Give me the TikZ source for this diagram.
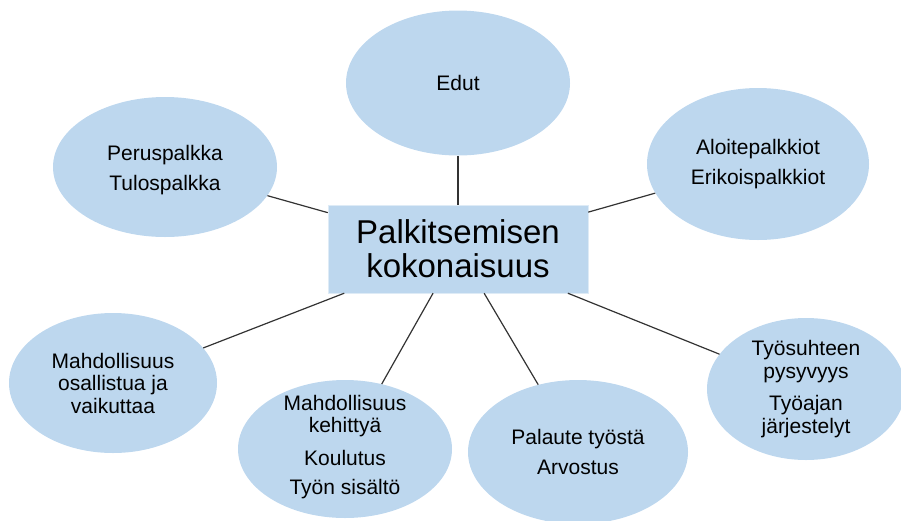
\documentclass[tikz,border=0pt]{standalone}
\usepackage{fontspec}
\setmainfont{Liberation Sans}
\usetikzlibrary{shapes.geometric}
\definecolor{pallo}{RGB}{189,215,238}

\begin{document}
\begin{tikzpicture}[x=1pt, y=-1pt,
	pallo/.style={ellipse, fill=pallo, inner sep=0pt},
	teksti/.style={align=center, inner sep=0pt, font=\fontsize{21}{22.5}\selectfont},
	yhteys/.style={black!80, line width=1.2pt}]

\useasboundingbox (0,0) rectangle (901,520);

\node[fill=pallo, draw=pallo!50!white, minimum width=260pt, minimum height=88pt,
	align=center, font=\fontsize{33}{34}\selectfont] (keskus) at (458,249) {Palkitsemisen\\kokonaisuus};

% ellipsit
\node[pallo, minimum width=224pt, minimum height=145pt] (edut) at (458,83) {};
\node[pallo, minimum width=224pt, minimum height=140pt] (perus) at (165,167) {};
\node[pallo, minimum width=222pt, minimum height=152pt] (aloite) at (758,164) {};
\node[pallo, minimum width=208pt, minimum height=140pt] (osallistua) at (113,383) {};
\node[pallo, minimum width=214pt, minimum height=138pt] (kehitys) at (345,449) {};
\node[pallo, minimum width=220pt, minimum height=144pt] (palaute) at (578,452) {};
\node[pallo, minimum width=198pt, minimum height=142pt] (tyosuhde) at (806,389) {};

\node[teksti] (edut-t) at (edut) {Edut};
\node[teksti] (perus-t) at ([yshift=-3pt]perus.center) {Peruspalkka\\[8pt]Tulospalkka};
\node[teksti] (aloite-t) at (aloite) {Aloitepalkkiot\\[8pt]Erikoispalkkiot};
\node[teksti] (osallistua-t) at (osallistua) {Mahdollisuus\\osallistua ja\\vaikuttaa};
\node[teksti] (kehitys-t) at ([yshift=2pt]kehitys.center) {Mahdollisuus\\kehittyä\\[10pt]Koulutus\\[7pt]Työn sisältö};
\node[teksti] (palaute-t) at (palaute) {Palaute työstä\\[8pt]Arvostus};
\node[teksti] (tyosuhde-t) at (tyosuhde) {Työsuhteen\\pysyvyys\\[10pt]Työajan\\järjestelyt};

\foreach \n in {edut, perus, aloite, osallistua, kehitys, palaute, tyosuhde}
	\draw[yhteys] (keskus) -- (\n);

\end{tikzpicture}
\end{document}
